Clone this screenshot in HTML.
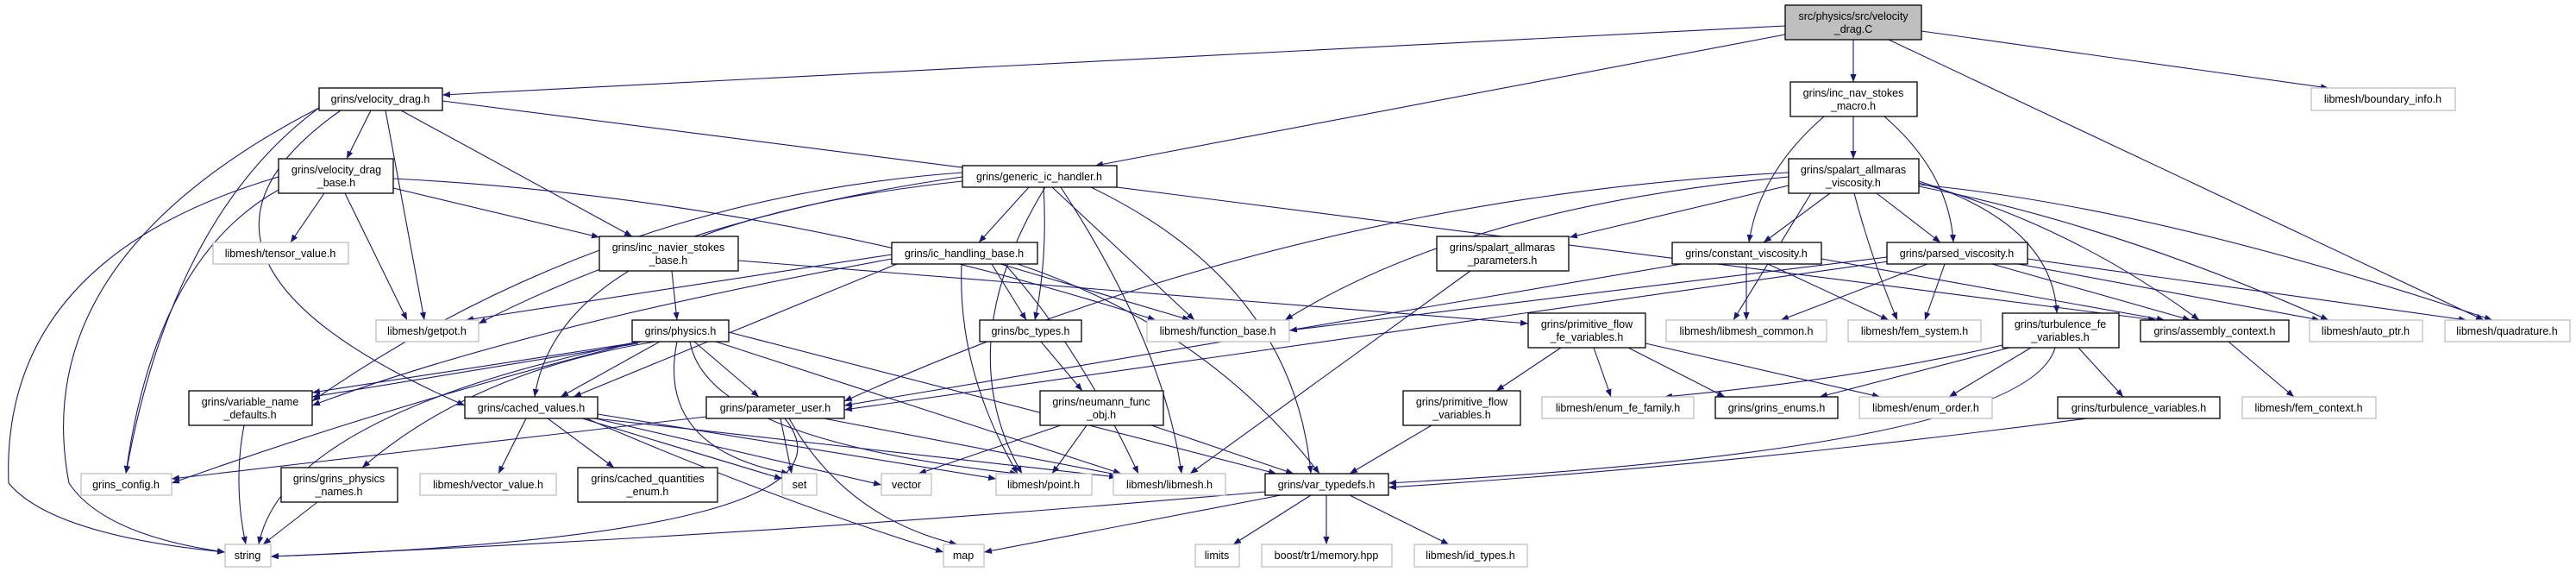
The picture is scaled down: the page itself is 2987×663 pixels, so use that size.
<!DOCTYPE html>
<html><head><meta charset="utf-8"><style>
html,body{margin:0;padding:0;background:#fff;}
svg{display:block;}
text{font-family:"Liberation Sans",Helvetica,sans-serif;font-size:12.5px;fill:#000;text-anchor:middle;}
.e{fill:none;stroke:#191970;stroke-width:1.1;marker-end:url(#a);}
.b{fill:#fff;stroke:#000;stroke-width:1.3;}
.g{fill:#fff;stroke:#bfbfbf;stroke-width:1.3;}
</style></head><body>
<svg width="2987" height="663" viewBox="0 0 2987 663" xmlns="http://www.w3.org/2000/svg">
<defs><marker id="a" viewBox="0 0 10 10" refX="10" refY="5" markerWidth="9" markerHeight="9" markerUnits="userSpaceOnUse" orient="auto"><path d="M0,1 L10,5 L0,9 z" fill="#191970"/></marker></defs>
<g>
<path class="e" d="M2070,30 L513,110"/>
<path class="e" d="M2070,40 L1270,192"/>
<path class="e" d="M2149,46 L2149,95"/>
<path class="e" d="M2228,36 L2700,102"/>
<path class="e" d="M2190,46 L2880,371"/>
<path class="e" d="M430,128 L402,184"/>
<path class="e" d="M447,128 Q470,250 492,371"/>
<path class="e" d="M465,128 L733,274"/>
<path class="e" d="M395,128 Q150,300 539,470"/>
<path class="e" d="M370,125 Q200,250 146,549"/>
<path class="e" d="M370,125 Q30,300 80,560 Q120,620 261,640"/>
<path class="e" d="M513,117 L2500,371"/>
<path class="e" d="M376,224 L337,281"/>
<path class="e" d="M400,224 L472,371"/>
<path class="e" d="M456,218 L695,275"/>
<path class="e" d="M456,207 Q900,230 1340,371"/>
<path class="e" d="M323,220 Q180,300 146,549"/>
<path class="e" d="M323,205 Q0,300 10,560 Q60,620 261,640"/>
<path class="e" d="M779,314 L785,371"/>
<path class="e" d="M856,302 L1772,375"/>
<path class="e" d="M745,396 L362,455"/>
<path class="e" d="M740,398 Q550,430 362,460"/>
<path class="e" d="M765,396 L650,460"/>
<path class="e" d="M805,396 L880,460"/>
<path class="e" d="M760,396 Q550,430 420,542"/>
<path class="e" d="M740,396 Q330,480 300,631"/>
<path class="e" d="M740,396 Q450,470 199,560"/>
<path class="e" d="M785,396 Q760,520 915,549"/>
<path class="e" d="M800,396 Q820,510 1180,549"/>
<path class="e" d="M830,396 L1300,549"/>
<path class="e" d="M845,385 L1480,549"/>
<path class="e" d="M1193,217 L1135,281"/>
<path class="e" d="M1210,217 Q1215,300 1200,371"/>
<path class="e" d="M1220,217 L1385,371"/>
<path class="e" d="M1265,217 Q1500,330 1520,549"/>
<path class="e" d="M1230,217 Q1350,400 1370,549"/>
<path class="e" d="M1212,217 Q1100,400 1185,549"/>
<path class="e" d="M1116,205 Q800,250 555,375"/>
<path class="e" d="M1116,200 Q700,230 362,465"/>
<path class="e" d="M1116,210 Q650,260 620,460"/>
<path class="e" d="M1150,306 L1190,371"/>
<path class="e" d="M1160,306 L1380,371"/>
<path class="e" d="M1034,295 L540,371"/>
<path class="e" d="M1034,300 Q600,380 362,470"/>
<path class="e" d="M1040,306 L665,460"/>
<path class="e" d="M1180,306 Q1400,380 1530,549"/>
<path class="e" d="M1165,306 Q1250,400 1320,549"/>
<path class="e" d="M1115,306 Q1110,430 1180,549"/>
<path class="e" d="M610,485 L578,549"/>
<path class="e" d="M635,485 L712,542"/>
<path class="e" d="M675,485 L907,555"/>
<path class="e" d="M693,480 L1155,555"/>
<path class="e" d="M690,485 L1295,553"/>
<path class="e" d="M690,485 L1022,562"/>
<path class="e" d="M680,485 Q900,580 1094,640"/>
<path class="e" d="M819,483 L199,555"/>
<path class="e" d="M905,485 L918,549"/>
<path class="e" d="M915,485 Q980,600 1110,631"/>
<path class="e" d="M910,485 Q1020,620 314,645"/>
<path class="e" d="M955,485 L1300,551"/>
<path class="e" d="M283,493 Q270,560 285,631"/>
<path class="e" d="M368,582 L305,631"/>
<path class="e" d="M1207,396 L1255,453"/>
<path class="e" d="M1230,493 L1065,549"/>
<path class="e" d="M1260,493 L1220,549"/>
<path class="e" d="M1335,493 L1500,549"/>
<path class="e" d="M1810,403 L1735,453"/>
<path class="e" d="M1848,403 L1868,460"/>
<path class="e" d="M1888,403 L2000,460"/>
<path class="e" d="M1908,398 L2180,460"/>
<path class="e" d="M1660,493 L1565,549"/>
<path class="e" d="M1467,570 Q900,620 314,645"/>
<path class="e" d="M1485,574 L1141,640"/>
<path class="e" d="M1520,574 L1430,631"/>
<path class="e" d="M1538,574 L1538,631"/>
<path class="e" d="M1565,574 L1680,631"/>
<path class="e" d="M2149,135 L2149,184"/>
<path class="e" d="M2115,135 Q2040,200 2028,281"/>
<path class="e" d="M2185,135 Q2260,200 2265,281"/>
<path class="e" d="M2122,224 L2045,281"/>
<path class="e" d="M2176,224 L2250,281"/>
<path class="e" d="M2074,215 L1820,275"/>
<path class="e" d="M2074,205 Q1700,240 1490,371"/>
<path class="e" d="M2074,200 Q1500,230 979,465"/>
<path class="e" d="M2100,224 L2010,371"/>
<path class="e" d="M2150,224 Q2170,300 2200,371"/>
<path class="e" d="M2225,210 Q2380,260 2385,363"/>
<path class="e" d="M2225,212 Q2400,260 2550,371"/>
<path class="e" d="M2225,216 Q2450,260 2700,371"/>
<path class="e" d="M2225,214 Q2500,240 2890,371"/>
<path class="e" d="M1705,314 L1380,549"/>
<path class="e" d="M2025,306 L2025,371"/>
<path class="e" d="M2050,306 L2190,371"/>
<path class="e" d="M2112,300 L2510,371"/>
<path class="e" d="M1950,306 L979,470"/>
<path class="e" d="M2188,298 L1495,383"/>
<path class="e" d="M2190,303 L979,475"/>
<path class="e" d="M2235,306 L2065,371"/>
<path class="e" d="M2255,306 L2232,371"/>
<path class="e" d="M2310,306 L2540,371"/>
<path class="e" d="M2340,306 L2690,371"/>
<path class="e" d="M2351,300 L2860,371"/>
<path class="e" d="M2322,400 Q2150,440 1930,460"/>
<path class="e" d="M2330,403 L2110,460"/>
<path class="e" d="M2355,403 L2260,460"/>
<path class="e" d="M2410,403 L2462,460"/>
<path class="e" d="M2383,403 Q2350,520 1610,560"/>
<path class="e" d="M2420,485 Q2000,540 1610,565"/>
<path class="e" d="M2584,396 L2660,460"/>
</g>
<g>
<rect x="2070" y="6" width="158" height="40" fill="#bfbfbf" stroke="#000" stroke-width="1.3"/><text x="2149" y="23">src/physics/src/velocity</text><text x="2149" y="38">_drag.C</text>
<rect class="b" x="370" y="102" width="143" height="26"/><text x="441" y="119">grins/velocity_drag.h</text>
<rect class="b" x="323" y="184" width="133" height="40"/><text x="390" y="201">grins/velocity_drag</text><text x="390" y="216">_base.h</text>
<rect class="g" x="247" y="281" width="157" height="25"/><text x="325" y="298">libmesh/tensor_value.h</text>
<rect class="b" x="695" y="274" width="161" height="40"/><text x="775" y="291">grins/inc_navier_stokes</text><text x="775" y="306">_base.h</text>
<rect class="g" x="436" y="371" width="119" height="25"/><text x="495" y="388">libmesh/getpot.h</text>
<rect class="b" x="733" y="371" width="112" height="25"/><text x="789" y="388">grins/physics.h</text>
<rect class="b" x="219" y="453" width="143" height="40"/><text x="290" y="470">grins/variable_name</text><text x="290" y="485">_defaults.h</text>
<rect class="b" x="539" y="460" width="154" height="25"/><text x="616" y="477">grins/cached_values.h</text>
<rect class="b" x="819" y="460" width="160" height="25"/><text x="899" y="477">grins/parameter_user.h</text>
<rect class="g" x="94" y="549" width="105" height="25"/><text x="146" y="566">grins_config.h</text>
<rect class="b" x="326" y="542" width="135" height="40"/><text x="393" y="559">grins/grins_physics</text><text x="393" y="574">_names.h</text>
<rect class="g" x="487" y="549" width="158" height="25"/><text x="566" y="566">libmesh/vector_value.h</text>
<rect class="b" x="670" y="542" width="162" height="40"/><text x="751" y="559">grins/cached_quantities</text><text x="751" y="574">_enum.h</text>
<rect class="g" x="907" y="549" width="40" height="25"/><text x="927" y="566">set</text>
<rect class="g" x="261" y="631" width="53" height="26"/><text x="287" y="648">string</text>
<rect class="b" x="1116" y="192" width="179" height="25"/><text x="1205" y="209">grins/generic_ic_handler.h</text>
<rect class="b" x="1034" y="281" width="169" height="25"/><text x="1118" y="298">grins/ic_handling_base.h</text>
<rect class="b" x="1666" y="274" width="153" height="40"/><text x="1742" y="291">grins/spalart_allmaras</text><text x="1742" y="306">_parameters.h</text>
<rect class="b" x="1939" y="281" width="173" height="25"/><text x="2025" y="298">grins/constant_viscosity.h</text>
<rect class="b" x="1136" y="371" width="118" height="25"/><text x="1195" y="388">grins/bc_types.h</text>
<rect class="g" x="1330" y="371" width="165" height="25"/><text x="1412" y="388">libmesh/function_base.h</text>
<rect class="b" x="1772" y="363" width="136" height="40"/><text x="1840" y="380">grins/primitive_flow</text><text x="1840" y="395">_fe_variables.h</text>
<rect class="g" x="1932" y="371" width="186" height="25"/><text x="2025" y="388">libmesh/libmesh_common.h</text>
<rect class="b" x="1206" y="453" width="143" height="40"/><text x="1277" y="470">grins/neumann_func</text><text x="1277" y="485">_obj.h</text>
<rect class="b" x="1627" y="453" width="136" height="40"/><text x="1695" y="470">grins/primitive_flow</text><text x="1695" y="485">_variables.h</text>
<rect class="g" x="1788" y="460" width="176" height="25"/><text x="1876" y="477">libmesh/enum_fe_family.h</text>
<rect class="b" x="1989" y="460" width="142" height="25"/><text x="2060" y="477">grins/grins_enums.h</text>
<rect class="g" x="1022" y="549" width="58" height="25"/><text x="1051" y="566">vector</text>
<rect class="g" x="1155" y="549" width="111" height="25"/><text x="1210" y="566">libmesh/point.h</text>
<rect class="g" x="1291" y="549" width="130" height="25"/><text x="1356" y="566">libmesh/libmesh.h</text>
<rect class="b" x="1467" y="549" width="143" height="25"/><text x="1538" y="566">grins/var_typedefs.h</text>
<rect class="g" x="1094" y="631" width="47" height="26"/><text x="1117" y="648">map</text>
<rect class="g" x="1386" y="631" width="51" height="26"/><text x="1411" y="648">limits</text>
<rect class="g" x="1463" y="631" width="151" height="26"/><text x="1538" y="648">boost/tr1/memory.hpp</text>
<rect class="g" x="1640" y="631" width="131" height="26"/><text x="1705" y="648">libmesh/id_types.h</text>
<rect class="b" x="2076" y="95" width="147" height="40"/><text x="2149" y="112">grins/inc_nav_stokes</text><text x="2149" y="127">_macro.h</text>
<rect class="g" x="2680" y="102" width="167" height="26"/><text x="2763" y="119">libmesh/boundary_info.h</text>
<rect class="b" x="2074" y="184" width="151" height="40"/><text x="2149" y="201">grins/spalart_allmaras</text><text x="2149" y="216">_viscosity.h</text>
<rect class="b" x="2188" y="281" width="163" height="25"/><text x="2269" y="298">grins/parsed_viscosity.h</text>
<rect class="g" x="2143" y="371" width="154" height="25"/><text x="2220" y="388">libmesh/fem_system.h</text>
<rect class="b" x="2322" y="363" width="135" height="40"/><text x="2389" y="380">grins/turbulence_fe</text><text x="2389" y="395">_variables.h</text>
<rect class="b" x="2482" y="371" width="172" height="25"/><text x="2568" y="388">grins/assembly_context.h</text>
<rect class="g" x="2678" y="371" width="131" height="25"/><text x="2743" y="388">libmesh/auto_ptr.h</text>
<rect class="g" x="2835" y="371" width="145" height="25"/><text x="2907" y="388">libmesh/quadrature.h</text>
<rect class="g" x="2156" y="460" width="154" height="25"/><text x="2233" y="477">libmesh/enum_order.h</text>
<rect class="b" x="2386" y="460" width="188" height="25"/><text x="2480" y="477">grins/turbulence_variables.h</text>
<rect class="g" x="2600" y="460" width="155" height="25"/><text x="2677" y="477">libmesh/fem_context.h</text>
</g>
</svg>
</body></html>
